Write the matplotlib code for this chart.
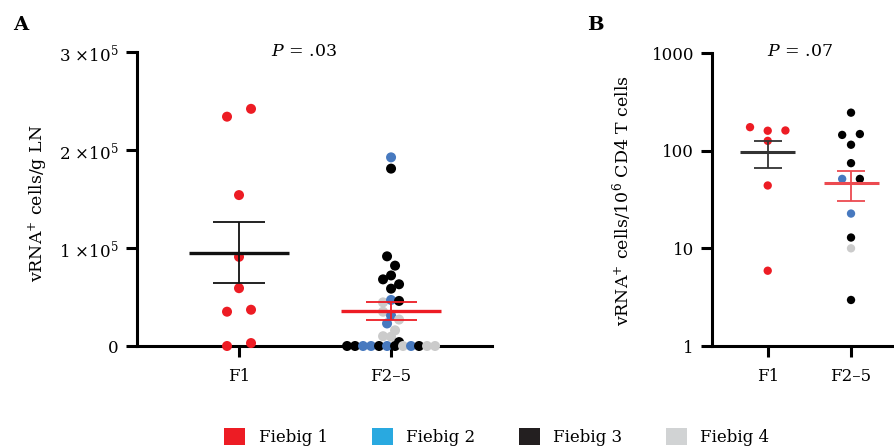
import numpy as np
import matplotlib
matplotlib.use('Agg')
import matplotlib.pyplot as plt
from matplotlib.patches import Patch

plt.rcParams['font.family'] = 'DejaVu Serif'
plt.rcParams['mathtext.fontset'] = 'dejavuserif'

groups = ['F1', 'F2–5']
stage_names = ['Fiebig 1', 'Fiebig 2', 'Fiebig 3', 'Fiebig 4']
legend_colors = ['#ED1C24', '#29A9E0', '#231F20', '#D1D3D4']
dot_colors = {1: '#ED1C24', 2: '#4779BF', 3: '#000000', 4: '#CBCBCB'}

# panel A: vRNA+ cells per g lymph node
a_f1_vals = [234000, 242000, 154000, 91000, 59000, 35000, 37000, 0, 3000]
a_f1_stage = [1, 1, 1, 1, 1, 1, 1, 1, 1]
a_f25_vals = [192500, 181000, 91500, 82000, 68000, 72000, 63000, 58500,
              44500, 47000, 46000, 35000, 31000, 27000, 23000, 16000,
              10000, 9500, 4000,
              0, 0, 0, 0, 0, 0, 0, 0, 0, 0, 0, 0]
a_f25_stage = [2, 3, 3, 3, 3, 3, 3, 3,
               4, 2, 3, 4, 2, 4, 2, 4,
               4, 4, 3,
               3, 3, 2, 2, 3, 2, 3, 4, 2, 3, 4, 4]

# panel B: vRNA+ cells per 10^6 CD4 T cells (zeros are not visible on log axis)
b_f1_vals = [174, 160, 161, 126, 44, 5.9, 0]
b_f1_stage = [1, 1, 1, 1, 1, 1, 1]
b_f25_vals = [245, 145, 148, 115, 74.5, 51.4, 51.4, 22.7, 12.9, 10, 2.96,
              0, 0, 0, 0, 0, 0, 0, 0]
b_f25_stage = [3, 3, 3, 3, 3, 2, 3, 2, 3, 4, 3,
               3, 3, 3, 3, 4, 4, 2, 2]

p_values = ['.03', '.07']

W, H = 894, 448
fig = plt.figure(figsize=(W / 100, H / 100), dpi=100)


def px_box(l, t, r, b):
    return [l / W, 1 - b / H, (r - l) / W, (b - t) / H]


def swarm_x(ax, xc, vals, step_px, spread_px, tol_px):
    # group points into rows by pixel height, then centre each row
    vals = np.asarray(vals, float)
    log = ax.get_yscale() == 'log'
    show = vals > 0 if log else np.ones(len(vals), bool)
    yy = np.where(show, vals, 1.0)
    ypx = ax.transData.transform(np.column_stack([np.full(len(vals), xc), yy]))[:, 1]
    ppu = ax.transData.transform((1, 1))[0] - ax.transData.transform((0, 1))[0]
    order = [i for i in np.argsort(-vals, kind='stable') if show[i]]
    rows = []
    for i in order:
        if rows and abs(ypx[rows[-1][0]] - ypx[i]) < tol_px:
            rows[-1].append(i)
        else:
            rows.append([i])
    nmax = max(len(r) for r in rows)
    step = min(step_px, spread_px / nmax)
    xs = np.full(len(vals), np.nan)
    for r in rows:
        r = sorted(r)
        for k, i in enumerate(r):
            xs[i] = xc + (k - (len(r) - 1) / 2) * step / ppu
    return xs, show


def style_axes(ax):
    for s in ['top', 'right']:
        ax.spines[s].set_visible(False)
    for s in ['left', 'bottom']:
        ax.spines[s].set_linewidth(2.2)
    ax.tick_params(axis='both', which='major', length=8, width=2.2,
                   labelsize=12, color='black')
    ax.tick_params(axis='y', pad=5)
    ax.tick_params(axis='x', pad=8)
    ax.tick_params(which='minor', length=0)


def draw_group(ax, xc, vals, stages, size, step_px, spread_px, tol_px,
               bar_color, lw_mean, lw_sem):
    xs, show = swarm_x(ax, xc, vals, step_px, spread_px, tol_px)
    v = np.asarray(vals, float)
    for i in range(len(v)):
        if show[i]:
            ax.scatter(xs[i], v[i], s=size, color=dot_colors[stages[i]],
                       edgecolors='none', zorder=3, clip_on=False)
    # mean +/- SEM
    mean = v.mean()
    sem = v.std(ddof=1) / np.sqrt(len(v))
    ax.hlines(mean, xc - 0.33, xc + 0.33, color=bar_color, lw=lw_mean, zorder=5)
    ax.vlines(xc, mean - sem, mean + sem, color=bar_color, lw=lw_sem, zorder=5)
    ax.hlines([mean - sem, mean + sem], xc - 0.168, xc + 0.168,
              color=bar_color, lw=lw_sem, zorder=5)


# ---- panel A
axA = fig.add_axes(px_box(137, 52, 492, 346))
axA.set_xlim(0.329, 2.664)
axA.set_ylim(0, 3e5)
axA.set_yticks([0, 1e5, 2e5, 3e5])
axA.set_yticklabels(['0', r'$1\ {\times}10^{5}$', r'$2\ {\times}10^{5}$',
                     r'$3\ {\times}10^{5}$'])
axA.set_xticks([1, 2])
axA.set_xticklabels(groups)
style_axes(axA)
draw_group(axA, 1, a_f1_vals, a_f1_stage, 52, 24, 96, 9.5, '#111111', 2.4, 1.3)
draw_group(axA, 2, a_f25_vals, a_f25_stage, 52, 24, 96, 9.5, '#ED1C24', 2.4, 1.3)

# ---- panel B
axB = fig.add_axes(px_box(712, 53, 894, 346))
axB.set_yscale('log')
axB.set_xlim(0.331, 2.516)
axB.set_ylim(1, 1000)
axB.set_yticks([1, 10, 100, 1000])
axB.set_yticklabels(['1', '10', '100', '1000'])
axB.set_xticks([1, 2])
axB.set_xticklabels(groups)
style_axes(axB)
draw_group(axB, 1, b_f1_vals, b_f1_stage, 36, 17.7, 96, 8, '#333333', 2.2, 1.3)
draw_group(axB, 2, b_f25_vals, b_f25_stage, 36, 17.7, 96, 8, '#EC4A50', 2.2, 1.3)

# labels
fig.text(37.5 / W, 1 - 203 / H, r'vRNA$^{+}$ cells/g LN', rotation=90,
         ha='center', va='center', fontsize=12.5)
fig.text(622.5 / W, 1 - 200.5 / H, r'vRNA$^{+}$ cells/10$^{6}$ CD4 T cells',
         rotation=90, ha='center', va='center', fontsize=12.5)
fig.text(304 / W, 1 - 51 / H, r'$\it{P}$ = ' + p_values[0], ha='center',
         va='center', fontsize=12.5)
fig.text(800 / W, 1 - 52 / H, r'$\it{P}$ = ' + p_values[1], ha='center',
         va='center', fontsize=12.5)
fig.text(21 / W, 1 - 25 / H, 'A', ha='center', va='center', fontsize=14,
         fontweight='bold')
fig.text(595 / W, 1 - 25 / H, 'B', ha='center', va='center', fontsize=14,
         fontweight='bold')

handles = [Patch(facecolor=c, edgecolor='none') for c in legend_colors]
fig.legend(handles, stage_names, loc='center', ncol=4, frameon=False,
           bbox_to_anchor=(497 / W, 1 - 437 / H), fontsize=12,
           handlelength=1.25, handleheight=1.25, handletextpad=0.8,
           columnspacing=2.64, borderpad=0)

fig.savefig('out.png', dpi=100)
